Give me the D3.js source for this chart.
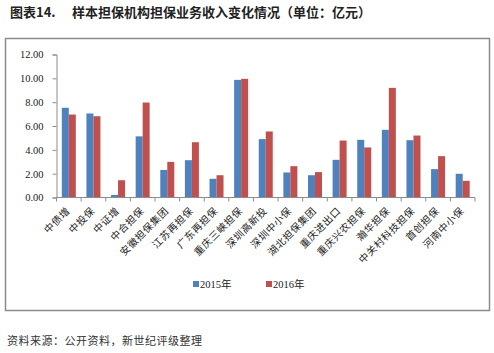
<!DOCTYPE html>
<html>
<head>
<meta charset="utf-8">
<script src="https://cdn.jsdelivr.net/npm/d3@7"></script>
<style>
  html, body { margin: 0; padding: 0; background: #fff; }
  svg { display: block; }
  text { font-family: "Liberation Serif", "Noto Sans CJK SC", serif; }
  .cjk { font-family: "Noto Sans CJK SC", sans-serif; }
</style>
</head>
<body>
<svg width="494" height="353"></svg>
<script>
  // data (亿元)
  const categories = ['中债增', '中投保', '中证增', '中合担保', '安徽担保集团', '江苏再担保',
    '广东再担保', '重庆三峡担保', '深圳高新投', '深圳中小保', '湖北担保集团', '重庆进出口',
    '重庆兴农担保', '瀚华担保', '中关村科技担保', '首创担保', '河南中小保'];
  const values2015 = [7.53, 7.05, 0.22, 5.13, 2.31, 3.13, 1.57, 9.87, 4.90, 2.10, 1.87, 3.16,
    4.84, 5.68, 4.81, 2.38, 1.99];
  const values2016 = [6.96, 6.82, 1.45, 7.97, 2.99, 4.64, 1.87, 9.96, 5.54, 2.63, 2.13, 4.78,
    4.20, 9.20, 5.20, 3.47, 1.40];
  const seriesNames = ['2015年', '2016年'];
  const yTicks = [0, 2, 4, 6, 8, 10, 12];

  const colors = ['#4F81BD', '#C0504D'];
  const axisColor = '#8c8c8c';

  const svg = d3.select('svg');

  // title + rule
  svg.append('text')
      .attr('class', 'cjk')
      .attr('x', 10).attr('y', 17)
      .attr('font-size', 13).attr('font-weight', 'bold').attr('fill', '#222')
      .text('图表14.');
  svg.append('text')
      .attr('class', 'cjk')
      .attr('x', 72).attr('y', 17)
      .attr('font-size', 13).attr('font-weight', 'bold').attr('fill', '#222')
      .text('样本担保机构担保业务收入变化情况（单位：亿元）');

  // chart frame
  svg.append('rect')
      .attr('x', 5.5).attr('y', 38.5)
      .attr('width', 484).attr('height', 272)
      .attr('fill', 'none').attr('stroke', axisColor).attr('stroke-width', 1.5);

  const margin = { top: 54.5, left: 56.5, right: 475, bottom: 197.5 };

  const x = d3.scaleBand()
      .domain(categories)
      .range([margin.left, margin.right]);

  const y = d3.scaleLinear()
      .domain([0, 12])
      .range([margin.bottom, margin.top]);

  const barW = 7;

  // bars
  const groups = svg.append('g').selectAll('g').data(categories)
    .enter().append('g')
      .attr('transform', d => `translate(${x(d) + x.bandwidth() / 2 - barW},0)`);

  [values2015, values2016].forEach((vals, s) => {
    groups.append('rect')
        .attr('x', s * barW)
        .attr('width', barW)
        .attr('y', (d, i) => y(vals[i]))
        .attr('height', (d, i) => y(0) - y(vals[i]))
        .attr('fill', colors[s]);
  });

  // y axis
  const yAxis = svg.append('g')
      .attr('transform', `translate(${margin.left},0)`)
      .call(d3.axisLeft(y).tickValues(yTicks).tickFormat(d3.format('.2f')).tickSize(4).tickPadding(9));
  yAxis.select('.domain').attr('stroke', axisColor);
  yAxis.selectAll('line').attr('stroke', axisColor);
  yAxis.selectAll('text').attr('font-size', 10.5).attr('fill', '#222')
      .attr('font-family', '"Liberation Serif", serif');

  // x axis: line + boundary ticks
  const xg = svg.append('g');
  xg.append('line')
      .attr('x1', margin.left).attr('x2', margin.right)
      .attr('y1', y(0)).attr('y2', y(0))
      .attr('stroke', axisColor);
  const bounds = categories.map(d => x(d)).concat([margin.right]);
  xg.selectAll('.tk').data(bounds)
    .enter().append('line')
      .attr('x1', d => d).attr('x2', d => d)
      .attr('y1', y(0)).attr('y2', y(0) + 4)
      .attr('stroke', axisColor);

  xg.selectAll('.lbl').data(categories)
    .enter().append('text')
      .attr('class', 'cjk')
      .attr('transform', d => `translate(${x(d) + x.bandwidth() / 2 + 2},${y(0) + 14}) rotate(-45)`)
      .attr('text-anchor', 'end')
      .attr('font-size', 10)
      .attr('letter-spacing', 0.6)
      .attr('fill', '#222')
      .text(d => d);

  // legend
  const legend = svg.append('g').selectAll('g').data(seriesNames)
    .enter().append('g')
      .attr('transform', (d, i) => `translate(${193 + i * 73},281)`);
  legend.append('rect')
      .attr('width', 6).attr('height', 6)
      .attr('fill', (d, i) => colors[i]);
  legend.append('text')
      .attr('x', 7).attr('y', 7)
      .attr('font-size', 10.5).attr('fill', '#222')
      .text(d => d);

  // source
  svg.append('text')
      .attr('class', 'cjk')
      .attr('x', 7).attr('y', 345)
      .attr('font-size', 11).attr('fill', '#333')
      .attr('letter-spacing', 0.5)
      .text('资料来源：公开资料，新世纪评级整理');
</script>
</body>
</html>
